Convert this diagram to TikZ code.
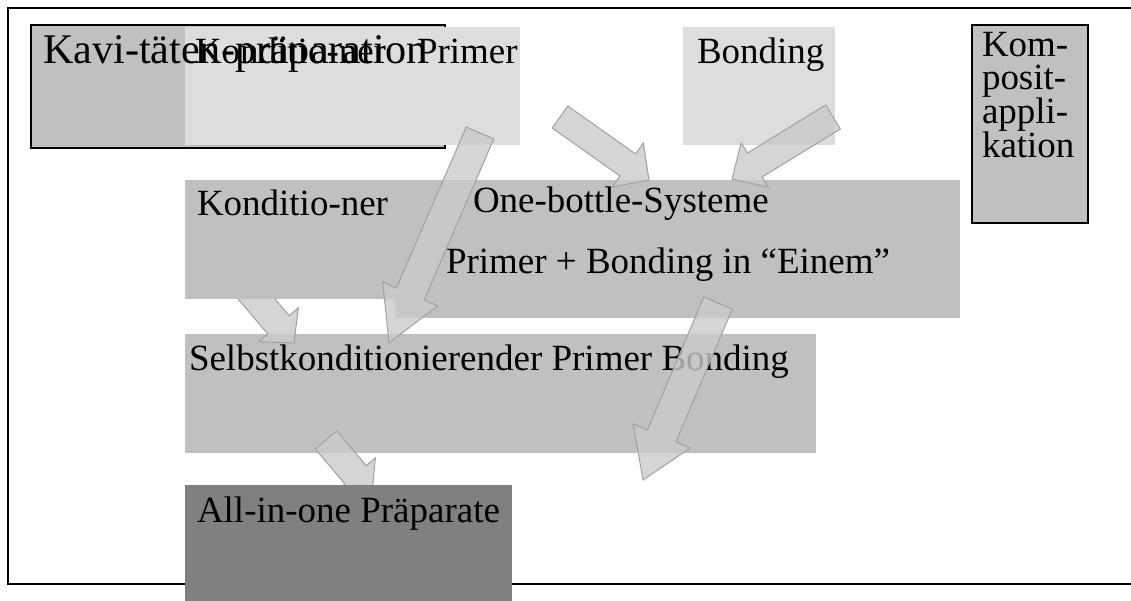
\documentclass[tikz,border=0pt]{standalone}
\usepackage{fontspec}
\setmainfont{Liberation Serif}
\usetikzlibrary{positioning,calc}
\definecolor{stepLight}{HTML}{DDDDDD}
\definecolor{stepMid}{HTML}{C0C0C0}
\definecolor{stepDark}{HTML}{808080}
\definecolor{arrowFill}{HTML}{CACACA}
\definecolor{arrowEdge}{HTML}{A0A0A0}

% block arrow: tail, tip, shaft half width, head half width, head length
\newcommand{\blockarrow}[5]{%
  \coordinate (hb) at ($(#2)!#5!(#1)$);
  \filldraw[blockarr] ($(#1)!#3!90:(#2)$) -- ($(hb)!#3!90:(#2)$) -- ($(hb)!#4!90:(#2)$) -- (#2)
    -- ($(hb)!#4!-90:(#2)$) -- ($(hb)!#3!-90:(#2)$) -- ($(#1)!#3!-90:(#2)$) -- cycle;}

\begin{document}
\begin{tikzpicture}[x=0.025cm, y=-0.025cm,
  every node/.style={inner sep=0pt, outer sep=0pt, font=\fontsize{26.3pt}{24pt}\selectfont},
  box/.style={anchor=north west, fill=#1},
  lbl/.style={anchor=base west},
  blockarr/.style={draw=arrowEdge, fill=arrowFill, fill opacity=0.8, line width=0.7pt}]
\useasboundingbox (0,0) rectangle (1131,600);
\draw[line width=1.5pt] (8,8) rectangle (1140,584);

% upper row
\node[box=stepMid, draw=black, line width=1.1pt, minimum width=10.35cm, minimum height=3.075cm] (kavi) at (31,25) {};
\node[box=stepLight, minimum width=5.4cm, minimum height=2.96cm] (kondtop) at (185,26.5) {};
\node[box=stepLight, minimum width=2.975cm, minimum height=2.96cm] (primer) at (401,26.5) {};
\node[box=stepLight, minimum width=3.8cm, minimum height=2.96cm] (bonding) at (683,26.5) {};
\node[box=stepMid, draw=black, line width=1.1pt, minimum width=2.9cm, minimum height=4.95cm] (kompos) at (972,25) {};
\node[lbl, font=\fontsize{30pt}{30pt}\selectfont] (kavitxt) at ([shift={(12,38)}]kavi.north west) {Kavi-täten-präparation};
\node[lbl] (kondtoptxt) at ([shift={(10,36.5)}]kondtop.north west) {Konditio-ner};
\node[lbl] (primertxt) at ([shift={(16,36.5)}]primer.north west) {Primer};
\node[lbl] (bondingtxt) at ([shift={(14,36.5)}]bonding.north west) {Bonding};
\node[anchor=north west, align=left] (kompostxt) at ([shift={(10,7)}]kompos.north west) {Kom-\\posit-\\appli-\\kation};

% lower rows
\node[box=stepMid, minimum width=15.775cm, minimum height=2.975cm] (selbst) at (185,334) {};
\coordinate (a4s) at (242,282);
\coordinate (a4t) at (294,343);
\blockarrow{a4s}{a4t}{10pt}{18.5pt}{17pt}
\node[box=stepMid, minimum width=10.5cm, minimum height=2.975cm] (kondlow) at (185,180) {};
\node[box=stepMid, minimum width=14.125cm, minimum height=3.45cm] (onebottle) at (395,180) {};
\node[lbl] (kondlowtxt) at ([shift={(12,35)}]kondlow.north west) {Konditio-ner};
\node[lbl] (onetxt) at (473,212) {One-bottle-Systeme};
\node[lbl] (einemtxt) at (446,273) {Primer + Bonding in “Einem”};
\node[lbl] (selbsttxt) at ([shift={(4,36)}]selbst.north west) {Selbstkonditionierender Primer Bonding};
\coordinate (a5s) at (326,440);
\coordinate (a5t) at (372,494);
\blockarrow{a5s}{a5t}{10pt}{18.5pt}{18pt}
\node[box=stepDark, minimum width=8.175cm, minimum height=3.5cm] (allinone) at (185,485) {};
\node[lbl] (allinonetxt) at ([shift={(12,37)}]allinone.north west) {All-in-one Präparate};

% arrows on top
\coordinate (a1s) at (480,133);
\coordinate (a1t) at (389,343);
\coordinate (a2s) at (560,117);
\coordinate (a2t) at (649,180);
\coordinate (a3s) at (833,117);
\coordinate (a3t) at (732,179);
\coordinate (a6s) at (718,303);
\coordinate (a6t) at (643,480);
\foreach \s/\t/\w/\h/\l in {a1s/a1t/10.7pt/21.3pt/38pt, a2s/a2t/9.6pt/19.2pt/18.5pt,
  a3s/a3t/10pt/18.5pt/19pt, a6s/a6t/11pt/22pt/34pt}{\blockarrow{\s}{\t}{\w}{\h}{\l}}
\end{tikzpicture}
\end{document}
